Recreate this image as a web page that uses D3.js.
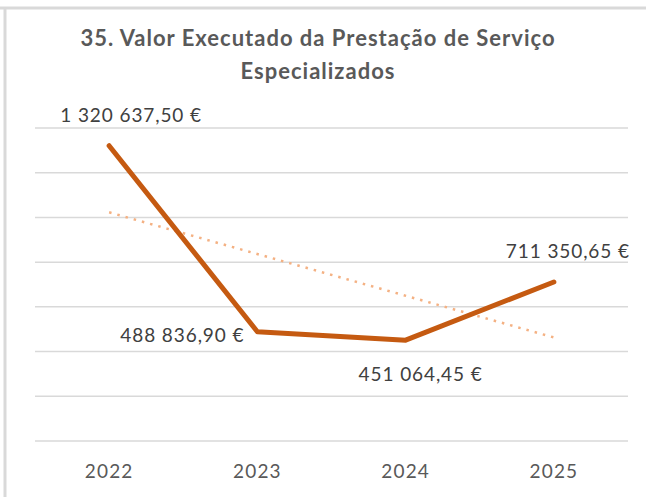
<!DOCTYPE html>
<meta charset="utf-8">
<html>
<style>
  body { margin: 0; background: #fff; }
  text { font-family: Lato, "Open Sans", sans-serif; }
</style>
<script src="https://d3js.org/d3.v7.min.js"></script>
<body>
<svg id="chart" width="646" height="497"></svg>
<script>

// Data
var years = ["2022", "2023", "2024", "2025"];
var values = [1320637.50, 488836.90, 451064.45, 711350.65];
var labels = ["1 320 637,50 €", "488 836,90 €", "451 064,45 €", "711 350,65 €"];
var yTicks = [0, 200000, 400000, 600000, 800000, 1000000, 1200000, 1400000];

var svg = d3.select("#chart");

// frame edges (cropped chart border)
svg.append("line").attr("x1", 0).attr("x2", 646).attr("y1", 8).attr("y2", 8)
  .attr("stroke", "#d9d9d9").attr("stroke-width", 3);
svg.append("line").attr("x1", 5).attr("x2", 5).attr("y1", 8).attr("y2", 497)
  .attr("stroke", "#d9d9d9").attr("stroke-width", 3);

var x = d3.scaleBand().domain(years).range([35, 628]);
var y = d3.scaleLinear().domain([0, 1400000]).range([441, 128]);

// gridlines
svg.append("g").selectAll("line")
  .data(yTicks)
  .enter().append("line")
    .attr("x1", 35).attr("x2", 628)
    .attr("y1", d => y(d)).attr("y2", d => y(d))
    .attr("stroke", "#d9d9d9").attr("stroke-width", 1.5);

// x axis labels
var xAxis = svg.append("g").attr("transform", "translate(0,441)")
  .call(d3.axisBottom(x).tickSize(0).tickPadding(24));
xAxis.select(".domain").remove();
xAxis.selectAll("text")
  .attr("font-family", "Lato, sans-serif")
  .attr("font-size", 19).attr("letter-spacing", 1.2).attr("fill", "#595959");

// linear trendline (least squares on index 1..n)
var n = values.length;
var xs = values.map((d, i) => i + 1);
var mx = d3.mean(xs), my = d3.mean(values);
var slope = d3.sum(xs, (xi, i) => (xi - mx) * (values[i] - my)) / d3.sum(xs, xi => (xi - mx) * (xi - mx));
var icpt = my - slope * mx;
var cx = d => x(d) + x.bandwidth() / 2;

svg.append("line")
  .attr("x1", cx(years[0])).attr("y1", y(icpt + slope * 1))
  .attr("x2", cx(years[n - 1])).attr("y2", y(icpt + slope * n))
  .attr("stroke", "#f4b183").attr("stroke-width", 2.5)
  .attr("stroke-dasharray", "2.5 6");

// main line
var line = d3.line().x((d, i) => cx(years[i])).y(d => y(d));
svg.append("path").datum(values)
  .attr("d", line)
  .attr("fill", "none").attr("stroke", "#c55a11")
  .attr("stroke-width", 5).attr("stroke-linejoin", "round").attr("stroke-linecap", "round");

// data labels (baseline offsets from each point)
var offs = [[22, -24, "middle"], [-13, 10, "end"], [15, 41, "middle"], [14, -23.5, "middle"]];
svg.append("g").selectAll("text")
  .data(values)
  .enter().append("text")
    .attr("x", (d, i) => cx(years[i]) + offs[i][0])
    .attr("y", (d, i) => y(d) + offs[i][1])
    .attr("text-anchor", (d, i) => offs[i][2])
    .attr("font-size", 19).attr("letter-spacing", 0.9).attr("fill", "#404040")
    .text((d, i) => labels[i]);

// title
var title = svg.append("text").attr("x", 318).attr("text-anchor", "middle")
  .attr("font-size", 22).attr("font-weight", "bold").attr("letter-spacing", 1).attr("fill", "#595959");
title.append("tspan").attr("x", 318).attr("y", 46).text("35. Valor Executado da Prestação de Serviço");
title.append("tspan").attr("x", 318).attr("y", 79).text("Especializados");

</script>
</body>
</html>
